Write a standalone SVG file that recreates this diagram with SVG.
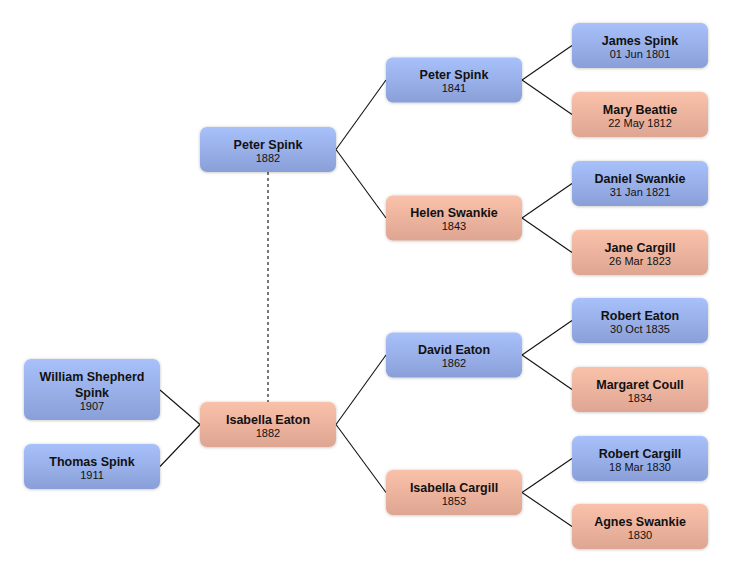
<svg xmlns="http://www.w3.org/2000/svg" width="732" height="574" viewBox="0 0 732 574">
<style>
.m{fill:url(#gb);filter:url(#sh)}
.f{fill:url(#gp);filter:url(#sh)}
.n{font-family:"Liberation Sans",Arial,sans-serif;font-size:12.5px;font-weight:bold;fill:#111;text-anchor:middle}
.d{font-family:"Liberation Sans",Arial,sans-serif;font-size:11px;fill:#111;text-anchor:middle}
.c{stroke:#111;stroke-width:1.1;fill:none}
.dot{stroke:#777;stroke-width:2;stroke-dasharray:3,3;fill:none}
</style>
<defs>
<linearGradient id="gb" x1="0" y1="0" x2="0" y2="1"><stop offset="0" stop-color="#a8c1fb"/><stop offset="1" stop-color="#8a9fd8"/></linearGradient>
<linearGradient id="gp" x1="0" y1="0" x2="0" y2="1"><stop offset="0" stop-color="#fac1aa"/><stop offset="1" stop-color="#dea592"/></linearGradient>
<filter id="sh" x="-10%" y="-20%" width="120%" height="140%"><feDropShadow dx="0" dy="0.5" stdDeviation="1.5" flood-color="#000" flood-opacity="0.25"/></filter>
</defs>
<rect width="732" height="574" fill="#fff"/>
<g id="connectors">
<line class="dot" x1="268" y1="172" x2="268" y2="402"/>
<line class="c" x1="160" y1="390" x2="200" y2="424.5"/>
<line class="c" x1="160" y1="466.5" x2="200" y2="424.5"/>
<line class="c" x1="336" y1="149.5" x2="386" y2="80"/>
<line class="c" x1="336" y1="149.5" x2="386" y2="218"/>
<line class="c" x1="336" y1="424.5" x2="386" y2="355"/>
<line class="c" x1="336" y1="424.5" x2="386" y2="492.5"/>
<line class="c" x1="522" y1="80" x2="572" y2="45.5"/>
<line class="c" x1="522" y1="80" x2="572" y2="114.5"/>
<line class="c" x1="522" y1="218" x2="572" y2="183.5"/>
<line class="c" x1="522" y1="218" x2="572" y2="252.5"/>
<line class="c" x1="522" y1="355" x2="572" y2="320.5"/>
<line class="c" x1="522" y1="355" x2="572" y2="389.5"/>
<line class="c" x1="522" y1="492.5" x2="572" y2="458.5"/>
<line class="c" x1="522" y1="492.5" x2="572" y2="526.5"/>
</g>
<g id="william"><rect class="m" x="24" y="359" width="136" height="61" rx="7"/><text class="n" x="92" y="381">William Shepherd</text><text class="n" x="92" y="397">Spink</text><text class="d" x="92" y="410">1907</text></g>
<g id="thomas"><rect class="m" x="24" y="444" width="136" height="45" rx="7"/><text class="n" x="92" y="466">Thomas Spink</text><text class="d" x="92" y="479">1911</text></g>
<g id="peter1882"><rect class="m" x="200" y="127" width="136" height="45" rx="7"/><text class="n" x="268" y="149">Peter Spink</text><text class="d" x="268" y="162">1882</text></g>
<g id="isabellaeaton"><rect class="f" x="200" y="402" width="136" height="45" rx="7"/><text class="n" x="268" y="424">Isabella Eaton</text><text class="d" x="268" y="437">1882</text></g>
<g id="peter1841"><rect class="m" x="386" y="57.5" width="136" height="45" rx="7"/><text class="n" x="454" y="79">Peter Spink</text><text class="d" x="454" y="92">1841</text></g>
<g id="helen"><rect class="f" x="386" y="195.5" width="136" height="45" rx="7"/><text class="n" x="454" y="217">Helen Swankie</text><text class="d" x="454" y="230">1843</text></g>
<g id="david"><rect class="m" x="386" y="332.5" width="136" height="45" rx="7"/><text class="n" x="454" y="354">David Eaton</text><text class="d" x="454" y="367">1862</text></g>
<g id="isabellacargill"><rect class="f" x="386" y="470" width="136" height="45" rx="7"/><text class="n" x="454" y="491.5">Isabella Cargill</text><text class="d" x="454" y="504.5">1853</text></g>
<g id="james"><rect class="m" x="572" y="23" width="136" height="45" rx="7"/><text class="n" x="640" y="44.5">James Spink</text><text class="d" x="640" y="57.5">01 Jun 1801</text></g>
<g id="mary"><rect class="f" x="572" y="92" width="136" height="45" rx="7"/><text class="n" x="640" y="113.5">Mary Beattie</text><text class="d" x="640" y="126.5">22 May 1812</text></g>
<g id="daniel"><rect class="m" x="572" y="161" width="136" height="45" rx="7"/><text class="n" x="640" y="182.5">Daniel Swankie</text><text class="d" x="640" y="195.5">31 Jan 1821</text></g>
<g id="jane"><rect class="f" x="572" y="230" width="136" height="45" rx="7"/><text class="n" x="640" y="251.5">Jane Cargill</text><text class="d" x="640" y="264.5">26 Mar 1823</text></g>
<g id="roberteaton"><rect class="m" x="572" y="298" width="136" height="45" rx="7"/><text class="n" x="640" y="319.5">Robert Eaton</text><text class="d" x="640" y="332.5">30 Oct 1835</text></g>
<g id="margaret"><rect class="f" x="572" y="367" width="136" height="45" rx="7"/><text class="n" x="640" y="388.5">Margaret Coull</text><text class="d" x="640" y="401.5">1834</text></g>
<g id="robertcargill"><rect class="m" x="572" y="436" width="136" height="45" rx="7"/><text class="n" x="640" y="457.5">Robert Cargill</text><text class="d" x="640" y="470.5">18 Mar 1830</text></g>
<g id="agnes"><rect class="f" x="572" y="504" width="136" height="45" rx="7"/><text class="n" x="640" y="525.5">Agnes Swankie</text><text class="d" x="640" y="538.5">1830</text></g>
</svg>
